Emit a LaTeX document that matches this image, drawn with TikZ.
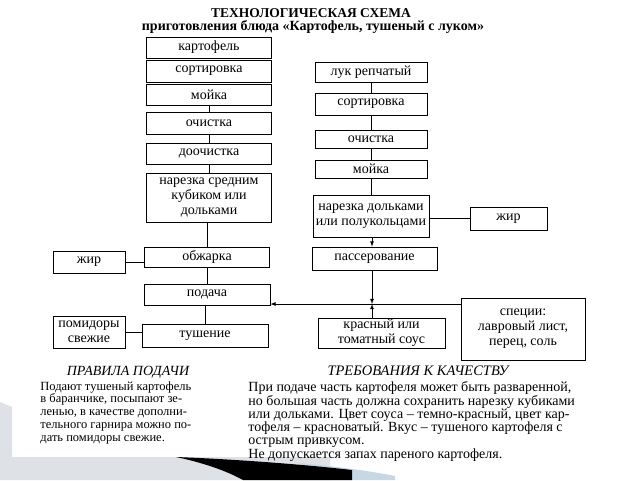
\documentclass[tikz,border=0pt]{standalone}
\usepackage{fontspec}
\setmainfont{Liberation Serif}
\usetikzlibrary{positioning}

\definecolor{slidegray}{RGB}{222,226,231}
\definecolor{slideblue}{RGB}{200,215,228}
\tikzset{
  stepbox/.style={draw, line width=0.8pt, align=center, inner sep=1pt,
    font=\fontsize{14}{15}\selectfont},
}

\begin{document}
\begin{tikzpicture}[x=1pt, y=1pt, line width=0.8pt]
    \useasboundingbox (0,-480) rectangle (640,0);

    % slide background at the bottom
    \fill[slidegray] (0,-402) -- (12,-407) -- (12,-457) -- (330,-457) -- (330,-480) -- (0,-480) -- cycle;
    \fill[slideblue] (300,-463) .. controls (340,-467) and (370,-471) .. (395,-476) -- (395,-480) -- (300,-480) -- cycle;
    \fill[black] (176,-457) .. controls (230,-459) and (300,-464) .. (352,-470) -- (352,-480) -- (243,-480) .. controls (225,-470) and (200,-462) .. (176,-457) -- cycle;

    % titles
    \node (title) at (311,-13) {\fontsize{13.5}{14}\selectfont\bfseries ТЕХНОЛОГИЧЕСКАЯ СХЕМА};
    \node (subtitle) at (313,-27) {\fontsize{14}{15}\selectfont\bfseries приготовления блюда «Картофель, тушеный с луком»};

    % potato line
    \node[stepbox, minimum width=125, minimum height=21] (kartofel) at (209,-47.5) {картофель};
    \node[stepbox, minimum width=125, minimum height=22] (sortL) at (209,-71) {сортировка};
    \node[stepbox, minimum width=125, minimum height=21] (moikaL) at (209,-94.5) {мойка};
    \node[stepbox, minimum width=125, minimum height=22] (ochistkaL) at (209,-123) {очистка};
    \node[stepbox, minimum width=125, minimum height=21] (doochistka) at (209,-153.5) {доочистка};
    \node[stepbox, minimum width=125, minimum height=49] (narezkaL) at (209,-197.5) {нарезка средним\\кубиком или\\дольками};
    \node[stepbox, minimum width=125, minimum height=20] (obzharka) at (207,-257) {обжарка};
    \node[stepbox, minimum width=126, minimum height=21] (podacha) at (207,-294.5) {подача};
    \node[stepbox, minimum width=126, minimum height=23] (tushenie) at (205,-335.5) {тушение};
    \node[stepbox, minimum width=72, minimum height=22] (zhirL) at (89,-262) {жир};
    \node[stepbox, minimum width=72, minimum height=32] (pomidory) at (89,-332) {помидоры\\свежие};

    % onion line
    \node[stepbox, minimum width=112, minimum height=20] (luk) at (371,-72) {лук репчатый};
    \node[stepbox, minimum width=112, minimum height=22] (sortR) at (371,-104) {сортировка};
    \node[stepbox, minimum width=112, minimum height=18] (ochistkaR) at (371,-139) {очистка};
    \node[stepbox, minimum width=112, minimum height=18] (moikaR) at (371,-169) {мойка};
    \node[stepbox, minimum width=116, minimum height=42] (narezkaR) at (371,-216) {нарезка дольками\\или полукольцами};
    \node[stepbox, minimum width=77, minimum height=23] (zhirR) at (508.5,-218.5) {жир};
    \node[stepbox, minimum width=125, minimum height=23] (passer) at (374.5,-258.5) {пассерование};
    \node[stepbox, minimum width=127, minimum height=30] (sous) at (381.5,-333) {красный или\\томатный соус};
    \node[stepbox, minimum width=124, minimum height=62] (specii) at (523,-329) {специи:\\лавровый лист,\\перец, соль};
    \coordinate (j) at (372,-304);

    \foreach \a/\b in {moikaL/ochistkaL, ochistkaL/doochistka, doochistka/narezkaL,
                       narezkaL/obzharka, obzharka/podacha, podacha/tushenie,
                       luk/sortR, sortR/ochistkaR, ochistkaR/moikaR, moikaR/narezkaR} {
      \draw (\a.south) -- (\a.south -| \b.north) -- (\b.north);
    }
    \draw (zhirL.east) -- (obzharka.west |- zhirL.east);
    \draw (pomidory.east) -- (tushenie.west |- pomidory.east);
    \draw (narezkaR.east |- zhirR.west) -- (zhirR.west);
    \draw[-latex] (narezkaR.south -| j) -- (passer.north -| j);
    \draw[-latex] (passer.south -| j) -- (j);
    \draw[-latex] (sous.north -| j) -- (j);
    \draw[-latex] (specii.west |- j) -- (podacha.east |- j);

    % texts below
    \node (rulesT) at (128,-372) {\fontsize{14}{15}\selectfont\itshape ПРАВИЛА ПОДАЧИ};
    \node[anchor=north west, align=left, inner sep=0pt, font=\fontsize{12.5}{12.8}\selectfont] (rules) at (40,-381)
      {Подают тушеный картофель\\в баранчике, посыпают зе-\\ленью, в качестве дополни-\\тельного гарнира можно по-\\дать помидоры свежие.};
    \node (qualT) at (418,-371) {\fontsize{14.5}{15}\selectfont\itshape ТРЕБОВАНИЯ К КАЧЕСТВУ};
    \node[anchor=north west, align=left, inner sep=0pt, font=\fontsize{14}{12.7}\selectfont] (qual) at (248,-381)
      {При подаче часть картофеля может быть разваренной,\\но большая часть должна сохранить нарезку кубиками\\или дольками. Цвет соуса – темно-красный, цвет кар-\\тофеля – красноватый. Вкус – тушеного картофеля с\\острым привкусом.\\Не допускается запах пареного картофеля.};
\end{tikzpicture}
\end{document}
